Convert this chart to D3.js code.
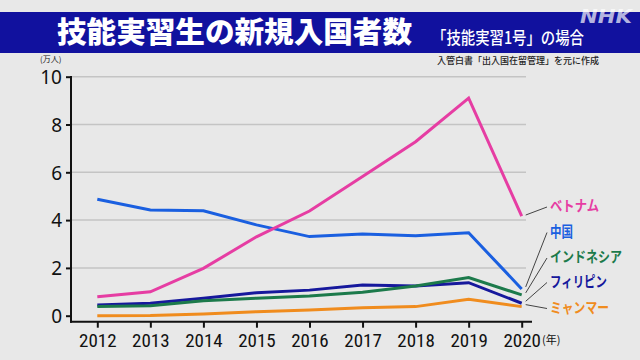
<!DOCTYPE html>
<html><head><meta charset="utf-8">
<script src="https://cdn.jsdelivr.net/npm/d3@7"></script>
<style>
html,body{margin:0;padding:0;background:#e8e8e8;}
svg{display:block;}
</style></head>
<body>
<svg id="chart" width="640" height="360"></svg>
<script>
const years = [2012, 2013, 2014, 2015, 2016, 2017, 2018, 2019, 2020];
const yTicks = [0, 2, 4, 6, 8, 10];
const vietnam     = [0.79, 1.0, 1.98, 3.3, 4.38, 5.82, 7.28, 9.1, 4.17];
const china       = [4.87, 4.42, 4.39, 3.8, 3.31, 3.42, 3.35, 3.47, 1.12];
const indonesia   = [0.38, 0.42, 0.63, 0.73, 0.82, 0.98, 1.24, 1.6, 0.87];
const philippines = [0.45, 0.52, 0.73, 0.96, 1.07, 1.28, 1.24, 1.38, 0.52];
const myanmar     = [0.0, 0.01, 0.07, 0.17, 0.24, 0.33, 0.38, 0.69, 0.38];
const seriesNames = ["ベトナム", "中国", "インドネシア", "フィリピン", "ミャンマー"];
const seriesValues = [vietnam, china, indonesia, philippines, myanmar];
const seriesColors = ["#e63da3", "#1a5fe0", "#1c7a4b", "#16189c", "#f08c1e"];
const labelY = [206, 231.5, 257, 281.5, 307.5];
const labelW = [49, 23, 72, 57, 59];
const title = "技能実習生の新規入国者数";
const subtitle = "「技能実習1号」の場合";
const source = "入管白書「出入国在留管理」を元に作成";

const svg = d3.select("#chart");
svg.append("rect").attr("width",640).attr("height",360).attr("fill","#e8e8e8");

// title bar
svg.append("rect").attr("x",0).attr("y",12).attr("width",640).attr("height",41).attr("fill","#11119e");
svg.append("text").attr("x",57).attr("y",43).attr("fill","#fff")
  .attr("font-family","'Noto Sans CJK JP'").attr("font-weight",900).attr("font-size",29)
  .attr("textLength",355).attr("lengthAdjust","spacingAndGlyphs").text(title);
svg.append("text").attr("x",432).attr("y",44).attr("fill","#fff")
  .attr("font-family","'Noto Sans CJK JP'").attr("font-weight",500).attr("font-size",17)
  .attr("textLength",152).attr("lengthAdjust","spacingAndGlyphs").text(subtitle);
svg.append("text").attr("x",632).attr("y",23).attr("text-anchor","end").attr("fill","#ffffff").attr("fill-opacity",0.7)
  .attr("font-family","'DejaVu Sans'").attr("font-weight",700).attr("font-style","italic").attr("font-size",19)
  .attr("textLength",52).attr("lengthAdjust","spacingAndGlyphs").text("NHK");

svg.append("text").attr("x",599).attr("y",64).attr("text-anchor","end").attr("fill","#222")
  .attr("font-family","'Noto Sans CJK JP'").attr("font-weight",500).attr("font-size",9).text(source);
svg.append("text").attr("x",40).attr("y",62).attr("fill","#222")
  .attr("font-family","'Noto Sans CJK JP'").attr("font-size",8).text("(万人)");

const x = d3.scaleLinear().domain([2012, 2020]).range([97.3, 521.7]);
const y = d3.scaleLinear().domain([0, 10]).range([315.7, 76.7]);

// gridlines
svg.append("g").selectAll("line").data(yTicks.filter(d=>d>0)).join("line")
  .attr("x1",71).attr("x2",526).attr("y1",d=>y(d)).attr("y2",d=>y(d))
  .attr("stroke","#c4c4c4").attr("stroke-width",1.5);

// y axis
const yAxis = svg.append("g").attr("transform","translate(71,0)")
  .call(d3.axisLeft(y).tickValues(yTicks).tickSize(5).tickPadding(4).tickFormat(d3.format("d")));
yAxis.select(".domain").remove();
yAxis.selectAll(".tick line").attr("stroke","#111").attr("stroke-width",2);
yAxis.selectAll(".tick text").attr("fill","#111").attr("font-family","'Noto Sans'").attr("font-size",19).attr("dy","0.36em");
svg.append("line").attr("x1",71).attr("x2",71).attr("y1",76).attr("y2",322.7).attr("stroke","#111").attr("stroke-width",2);

// x axis
const xAxis = svg.append("g").attr("transform","translate(0,321.7)")
  .call(d3.axisBottom(x).tickValues(years).tickSize(6).tickPadding(5).tickFormat(d3.format("d")));
xAxis.select(".domain").remove();
xAxis.selectAll(".tick line").attr("stroke","#111").attr("stroke-width",2);
xAxis.selectAll(".tick text").attr("fill","#111").attr("font-family","'Liberation Sans Narrow','Roboto Condensed','Liberation Sans'").attr("font-size",19).attr("dy","0.75em");
svg.append("line").attr("x1",70).attr("x2",532).attr("y1",321.7).attr("y2",321.7).attr("stroke","#111").attr("stroke-width",2);
svg.append("text").attr("x",542).attr("y",344).attr("fill","#111")
  .attr("font-family","'Noto Sans CJK JP'").attr("font-size",11).text("(年)");

// lines
const line = d3.line().x((d,i)=>x(years[i])).y(d=>y(d));
const order = [4,3,2,1,0];
svg.append("g").selectAll("path").data(order).join("path")
  .attr("d",i=>line(seriesValues[i])).attr("fill","none")
  .attr("stroke",i=>seriesColors[i]).attr("stroke-width",3).attr("stroke-linejoin","miter");

// leader lines and labels
const last = years.length-1;
const g = svg.append("g");
seriesNames.forEach((name,i)=>{
  const ex = x(years[last])+4, ey = y(seriesValues[i][last]);
  const sy = i===0 ? ey-1 : ey-2;
  g.append("line").attr("x1",ex).attr("y1",sy).attr("x2",547).attr("y2",labelY[i]+1)
    .attr("stroke","#444").attr("stroke-width",1);
  g.append("text").attr("x",550).attr("y",labelY[i]).attr("dy","0.36em")
    .attr("fill",seriesColors[i]).attr("font-family","'Noto Sans CJK JP'").attr("font-weight",700)
    .attr("font-size",14.5).attr("textLength",labelW[i]).attr("lengthAdjust","spacingAndGlyphs").text(name);
});
</script>
</body></html>
